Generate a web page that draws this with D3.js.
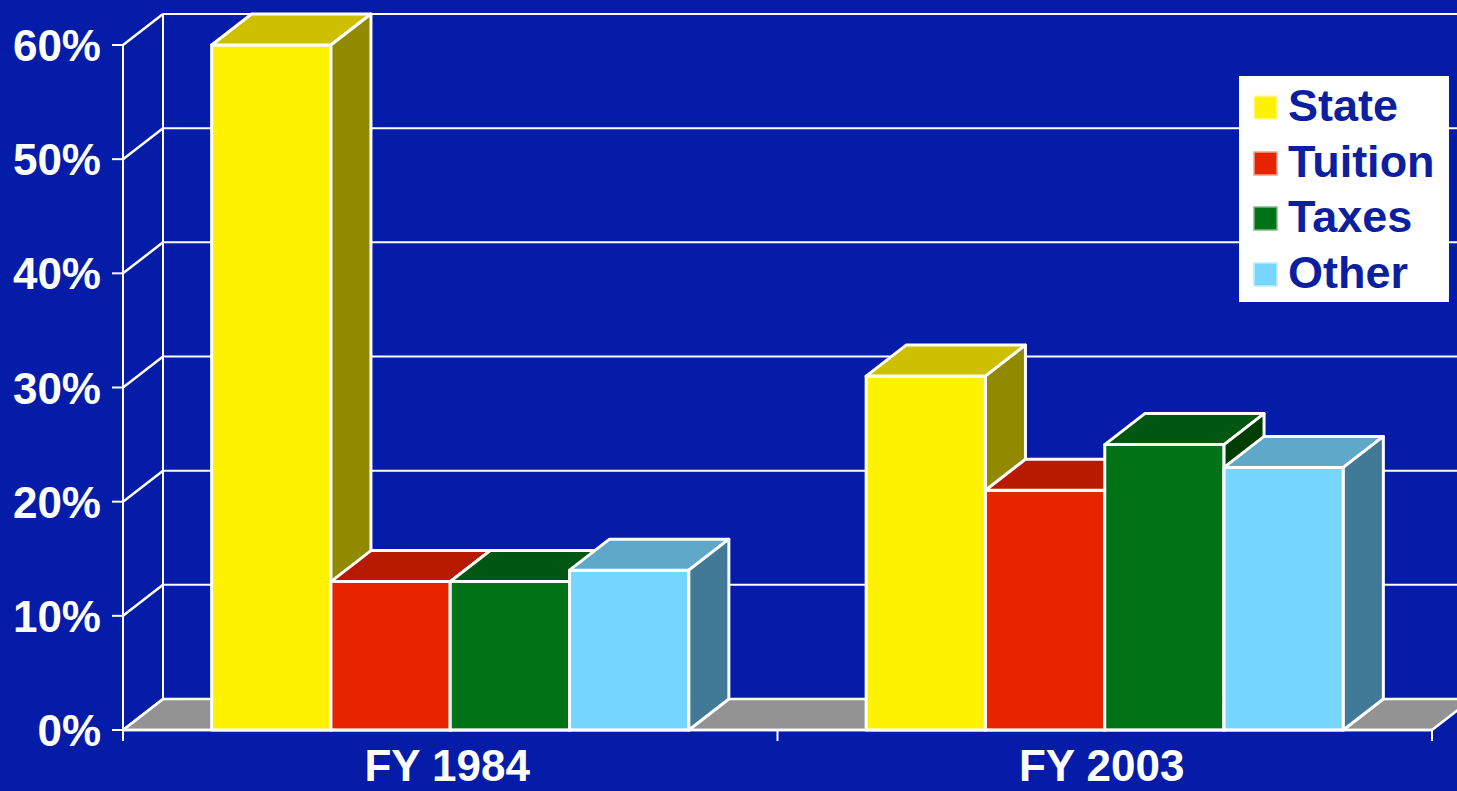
<!DOCTYPE html>
<html>
<head>
<meta charset="utf-8">
<script src="https://cdn.jsdelivr.net/npm/d3@7/dist/d3.min.js"></script>
<style>
  html, body { margin: 0; padding: 0; background: #041CA8; overflow: hidden; }
  svg { display: block; }
  text { font-family: "Liberation Sans", Arial, sans-serif; font-weight: bold; }
</style>
</head>
<body>
<svg id="chart" width="1457" height="791"></svg>
<script>
// ---- data ----
const categories = ["FY 1984", "FY 2003"];
const series = ["State", "Tuition", "Taxes", "Other"];
const stateValues   = [60, 31];
const tuitionValues = [13, 21];
const taxesValues   = [13, 25];
const otherValues   = [14, 23];
const yTicks = [0, 10, 20, 30, 40, 50, 60];
const yTickLabels = ["0%", "10%", "20%", "30%", "40%", "50%", "60%"];

const valuesBySeries = [stateValues, tuitionValues, taxesValues, otherValues];

// ---- styles ----
const colors = {
  State:   { front: "#FFF200", top: "#CCC000", side: "#918900", border: "#FFFF99" },
  Tuition: { front: "#E62400", top: "#B81A00", side: "#8A1400", border: "#F5A090" },
  Taxes:   { front: "#007316", top: "#005711", side: "#003D00", border: "#80B88A" },
  Other:   { front: "#77D6FF", top: "#5FA8CA", side: "#417A96", border: "#C0ECFF" }
};
const bg = "#041CA8";
const floorColor = "#939393";
const legendText = "#0B1F9F";

const svg = d3.select("#chart");
const W = 1457, H = 791;
svg.append("rect").attr("width", W).attr("height", H).attr("fill", bg);

// ---- scales ----
const x0 = 123, x1 = 1432;
const depthX = 40, depthY = 31;
const y = d3.scaleLinear().domain([0, 60]).range([730, 45]);
const xCat = d3.scaleBand().domain(categories).range([x0, x1]).paddingInner(0).paddingOuter(0);
const xSer = d3.scaleBand().domain(series).range([0, xCat.bandwidth()]).paddingInner(0).paddingOuter(0.743);

const pts = a => a.map(p => p.join(",")).join(" ");

const g = svg.append("g");
const yTop = y(60);
const yBase = y(0);

// floor
g.append("polygon")
  .attr("points", pts([[x0, yBase], [x1, yBase], [x1 + depthX, yBase - depthY], [x0 + depthX, yBase - depthY]]))
  .attr("fill", floorColor).attr("stroke", "white").attr("stroke-width", 2.5).attr("stroke-linejoin", "round");

// gridlines on back wall
g.selectAll("line.grid").data(yTicks).join("line")
  .attr("class", "grid")
  .attr("x1", x0 + depthX).attr("x2", W + 50)
  .attr("y1", d => y(d) - depthY).attr("y2", d => y(d) - depthY)
  .attr("stroke", "white").attr("stroke-width", 2);

// left wall diagonals
g.selectAll("line.diag").data(yTicks).join("line")
  .attr("class", "diag")
  .attr("x1", x0).attr("x2", x0 + depthX)
  .attr("y1", d => y(d)).attr("y2", d => y(d) - depthY)
  .attr("stroke", "white").attr("stroke-width", 2.5);

// back-left vertical edge
g.append("line")
  .attr("x1", x0 + depthX).attr("x2", x0 + depthX)
  .attr("y1", yTop - depthY).attr("y2", yBase - depthY)
  .attr("stroke", "white").attr("stroke-width", 2);

// front-left vertical axis
g.append("line")
  .attr("x1", x0).attr("x2", x0)
  .attr("y1", yTop).attr("y2", yBase + 11)
  .attr("stroke", "white").attr("stroke-width", 2);

// y ticks
g.selectAll("line.ytick").data(yTicks).join("line")
  .attr("class", "ytick")
  .attr("x1", x0 - 11).attr("x2", x0)
  .attr("y1", d => y(d)).attr("y2", d => y(d))
  .attr("stroke", "white").attr("stroke-width", 2);

// y labels
g.selectAll("text.ylab").data(yTicks).join("text")
  .attr("class", "ylab")
  .attr("x", 101).attr("y", d => y(d) + 16)
  .attr("text-anchor", "end")
  .attr("fill", "white").attr("font-size", 44)
  .text((d, i) => yTickLabels[i]);

// ---- bars ----
const bars = [];
categories.forEach((c, ci) => {
  series.forEach((s, si) => {
    bars.push({ cat: c, ser: s, value: valuesBySeries[si][ci] });
  });
});

const barG = svg.append("g");
bars.forEach(b => {
  const bx = xCat(b.cat) + xSer(b.ser);
  const bw = xSer.bandwidth();
  const yt = y(b.value);
  const col = colors[b.ser];
  const bg2 = barG.append("g");
  bg2.append("polygon")
    .attr("points", pts([[bx, yBase], [bx + bw, yBase], [bx + bw, yt], [bx, yt]]))
    .attr("fill", col.front).attr("stroke", "white").attr("stroke-width", 3).attr("stroke-linejoin", "round");
  bg2.append("polygon")
    .attr("points", pts([[bx, yt], [bx + bw, yt], [bx + bw + depthX, yt - depthY], [bx + depthX, yt - depthY]]))
    .attr("fill", col.top).attr("stroke", "white").attr("stroke-width", 3).attr("stroke-linejoin", "round");
  bg2.append("polygon")
    .attr("points", pts([[bx + bw, yBase], [bx + bw + depthX, yBase - depthY], [bx + bw + depthX, yt - depthY], [bx + bw, yt]]))
    .attr("fill", col.side).attr("stroke", "white").attr("stroke-width", 3).attr("stroke-linejoin", "round");
});

// bottom front edge & x ticks
svg.append("line")
  .attr("x1", x0).attr("x2", x1).attr("y1", yBase).attr("y2", yBase)
  .attr("stroke", "white").attr("stroke-width", 2.5);
const xTickPos = [x0].concat(categories.map(c => xCat(c) + xCat.bandwidth()));
svg.selectAll("line.xtick").data(xTickPos).join("line")
  .attr("class", "xtick")
  .attr("x1", d => d).attr("x2", d => d)
  .attr("y1", yBase).attr("y2", yBase + 11)
  .attr("stroke", "white").attr("stroke-width", 2);

// x labels
svg.selectAll("text.xlab").data(categories).join("text")
  .attr("class", "xlab")
  .attr("x", d => xCat(d) + xCat.bandwidth() / 2 - 3)
  .attr("y", 781)
  .attr("text-anchor", "middle")
  .attr("fill", "white").attr("font-size", 44)
  .text(d => d);

// ---- legend ----
const lg = svg.append("g");
lg.append("rect")
  .attr("x", 1239).attr("y", 76).attr("width", 210).attr("height", 226)
  .attr("fill", "white");
const rowY = [121, 177, 232, 288];
series.forEach((s, i) => {
  lg.append("rect")
    .attr("x", 1254).attr("y", rowY[i] - 25).attr("width", 23).attr("height", 23)
    .attr("fill", colors[s].front).attr("stroke", colors[s].border).attr("stroke-width", 1.5);
  lg.append("text")
    .attr("x", 1288).attr("y", rowY[i])
    .attr("fill", legendText).attr("font-size", 45)
    .text(s);
});
</script>
</body>
</html>
